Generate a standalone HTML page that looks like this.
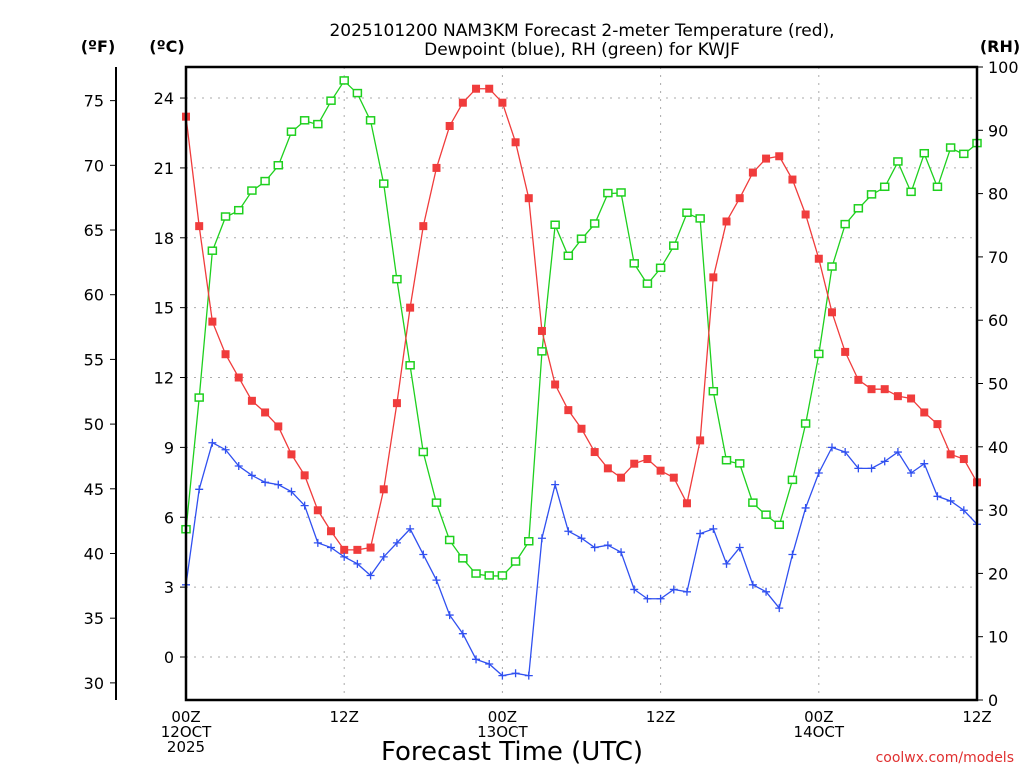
<!DOCTYPE html>
<html><head><meta charset="utf-8"><style>
body{margin:0;background:#fff}
svg{display:block;font-family:"DejaVu Sans","Liberation Sans",sans-serif}
</style></head><body>
<svg id="chart" width="1024" height="768" viewBox="0 0 1024 768" xmlns="http://www.w3.org/2000/svg">
<rect width="1024" height="768" fill="#fff"/>
<text x="582" y="36" font-size="17" text-anchor="middle">2025101200 NAM3KM Forecast 2-meter Temperature (red),</text>
<text x="582" y="55" font-size="17" text-anchor="middle">Dewpoint (blue), RH (green) for KWJF</text>
<text x="98" y="52" font-size="16" font-weight="bold" text-anchor="middle">(ºF)</text>
<text x="167" y="52" font-size="16" font-weight="bold" text-anchor="middle">(ºC)</text>
<text x="1000" y="52" font-size="16" font-weight="bold" text-anchor="middle">(RH)</text>
<g id="grid"></g>
<g id="axes"></g>
<g id="series"></g>
<rect x="186" y="67" width="791" height="633" fill="none" stroke="#000" stroke-width="2.5"/>
<text x="512" y="760" font-size="26" text-anchor="middle">Forecast Time (UTC)</text>
<text x="1014" y="762" font-size="14" fill="#e03030" text-anchor="end">coolwx.com/models</text>
</svg>
<script>
const tempC=[23.2,18.5,14.4,13.0,12.0,11.0,10.5,9.9,8.7,7.8,6.3,5.4,4.6,4.6,4.7,7.2,10.9,15.0,18.5,21.0,22.8,23.8,24.4,24.4,23.8,22.1,19.7,14.0,11.7,10.6,9.8,8.8,8.1,7.7,8.3,8.5,8.0,7.7,6.6,9.3,16.3,18.7,19.7,20.8,21.4,21.5,20.5,19.0,17.1,14.8,13.1,11.9,11.5,11.5,11.2,11.1,10.5,10.0,8.7,8.5,7.5];
const dewC=[3.1,7.2,9.2,8.9,8.2,7.8,7.5,7.4,7.1,6.5,4.9,4.7,4.3,4.0,3.5,4.3,4.9,5.5,4.4,3.3,1.8,1.0,-0.1,-0.3,-0.8,-0.7,-0.8,5.1,7.4,5.4,5.1,4.7,4.8,4.5,2.9,2.5,2.5,2.9,2.8,5.3,5.5,4.0,4.7,3.1,2.8,2.1,4.4,6.4,7.9,9.0,8.8,8.1,8.1,8.4,8.8,7.9,8.3,6.9,6.7,6.3,5.7];
const rh=[26.9,47.7,70.9,76.3,77.3,80.4,81.9,84.4,89.7,91.5,90.9,94.6,97.8,95.8,91.5,81.5,66.4,52.8,39.1,31.1,25.2,22.3,19.9,19.6,19.6,21.8,25.0,55.0,75.0,70.1,72.8,75.2,80.0,80.1,68.9,65.7,68.2,71.7,76.9,76.0,48.7,37.8,37.3,31.1,29.2,27.6,34.7,43.6,54.6,68.4,75.1,77.6,79.8,81.0,85.0,80.2,86.3,81.0,87.2,86.2,87.9];
const cTicks=[0,3,6,9,12,15,18,21,24];
const fTicks=[30,35,40,45,50,55,60,65,70,75];
const rhTicks=[0,10,20,30,40,50,60,70,80,90,100];
const xTicks=[0,12,24,36,48,60];
const xLabels=[["00Z","12OCT","2025"],["12Z"],["00Z","13OCT"],["12Z"],["00Z","14OCT"],["12Z"]];
const NS="http://www.w3.org/2000/svg";
const L=186,R=977,T=67,B=700;
const xs=h=>L+(R-L)*h/60;
const yC=c=>657-c*23.29;
const yF=f=>yC((f-32)/1.8);
const yRH=v=>B-(B-T)*v/100;
function mk(tag,attrs,parent){const e=document.createElementNS(NS,tag);for(const k in attrs)e.setAttribute(k,attrs[k]);parent.appendChild(e);return e;}
const grid=document.getElementById('grid'),axes=document.getElementById('axes'),ser=document.getElementById('series');
cTicks.forEach(c=>{const y=yC(c);
 const g=mk('line',{x1:L,x2:R,y1:y,y2:y,stroke:'#aaa','stroke-dasharray':'2,6'},grid);
 
 mk('line',{x1:L-6,x2:L,y1:y,y2:y,stroke:'#000'},axes);
 const t=mk('text',{x:L-12,y:y+6,'font-size':16,'text-anchor':'end'},axes);t.textContent=c;
 });
xTicks.forEach((h,i)=>{const x=xs(h);
 if(i>0&&i<xTicks.length-1){const g=mk('line',{x1:x,x2:x,y1:T,y2:B,stroke:'#aaa','stroke-dasharray':'2,6'},grid);
 }
 xLabels[i].forEach((s,j)=>{const t=mk('text',{x:x,y:722+j*15,'font-size':15,'text-anchor':'middle'},axes);t.textContent=s;
 });});
mk('line',{x1:116,x2:116,y1:T,y2:B,stroke:'#000','stroke-width':2},axes);
fTicks.forEach(f=>{const y=yF(f);
 mk('line',{x1:110,x2:116,y1:y,y2:y,stroke:'#000'},axes);
 const t=mk('text',{x:104,y:y+6,'font-size':16,'text-anchor':'end'},axes);t.textContent=f;
 });
rhTicks.forEach(v=>{const y=yRH(v);
 mk('line',{x1:R,x2:R+6,y1:y,y2:y,stroke:'#000'},axes);
 const t=mk('text',{x:988,y:y+6,'font-size':16},axes);t.textContent=v;
 });
function line(vals,yf,color,name){
 const p=mk('polyline',{points:vals.map((v,i)=>xs(i)+','+yf(v)).join(' '),fill:'none',stroke:color,'stroke-width':1.3},ser);
 }
line(rh,yRH,'#1ed01e','rh');line(tempC,yC,'#f03c3c','temperature');line(dewC,yC,'#3050f0','dewpoint');
rh.forEach((v,i)=>{const r=mk('rect',{x:xs(i)-4,y:yRH(v)-4,width:8,height:7,fill:'#fff',stroke:'#1ed01e','stroke-width':1.5},ser);
 });
tempC.forEach((v,i)=>{const r=mk('rect',{x:xs(i)-4,y:yC(v)-4,width:8,height:8,fill:'#f03c3c'},ser);
 });
dewC.forEach((v,i)=>{const x=xs(i),y=yC(v);
 const p=mk('path',{d:`M${x-4},${y}H${x+4}M${x},${y-4}V${y+4}`,stroke:'#3050f0','stroke-width':1.3},ser);
 });
</script>
</body></html>
